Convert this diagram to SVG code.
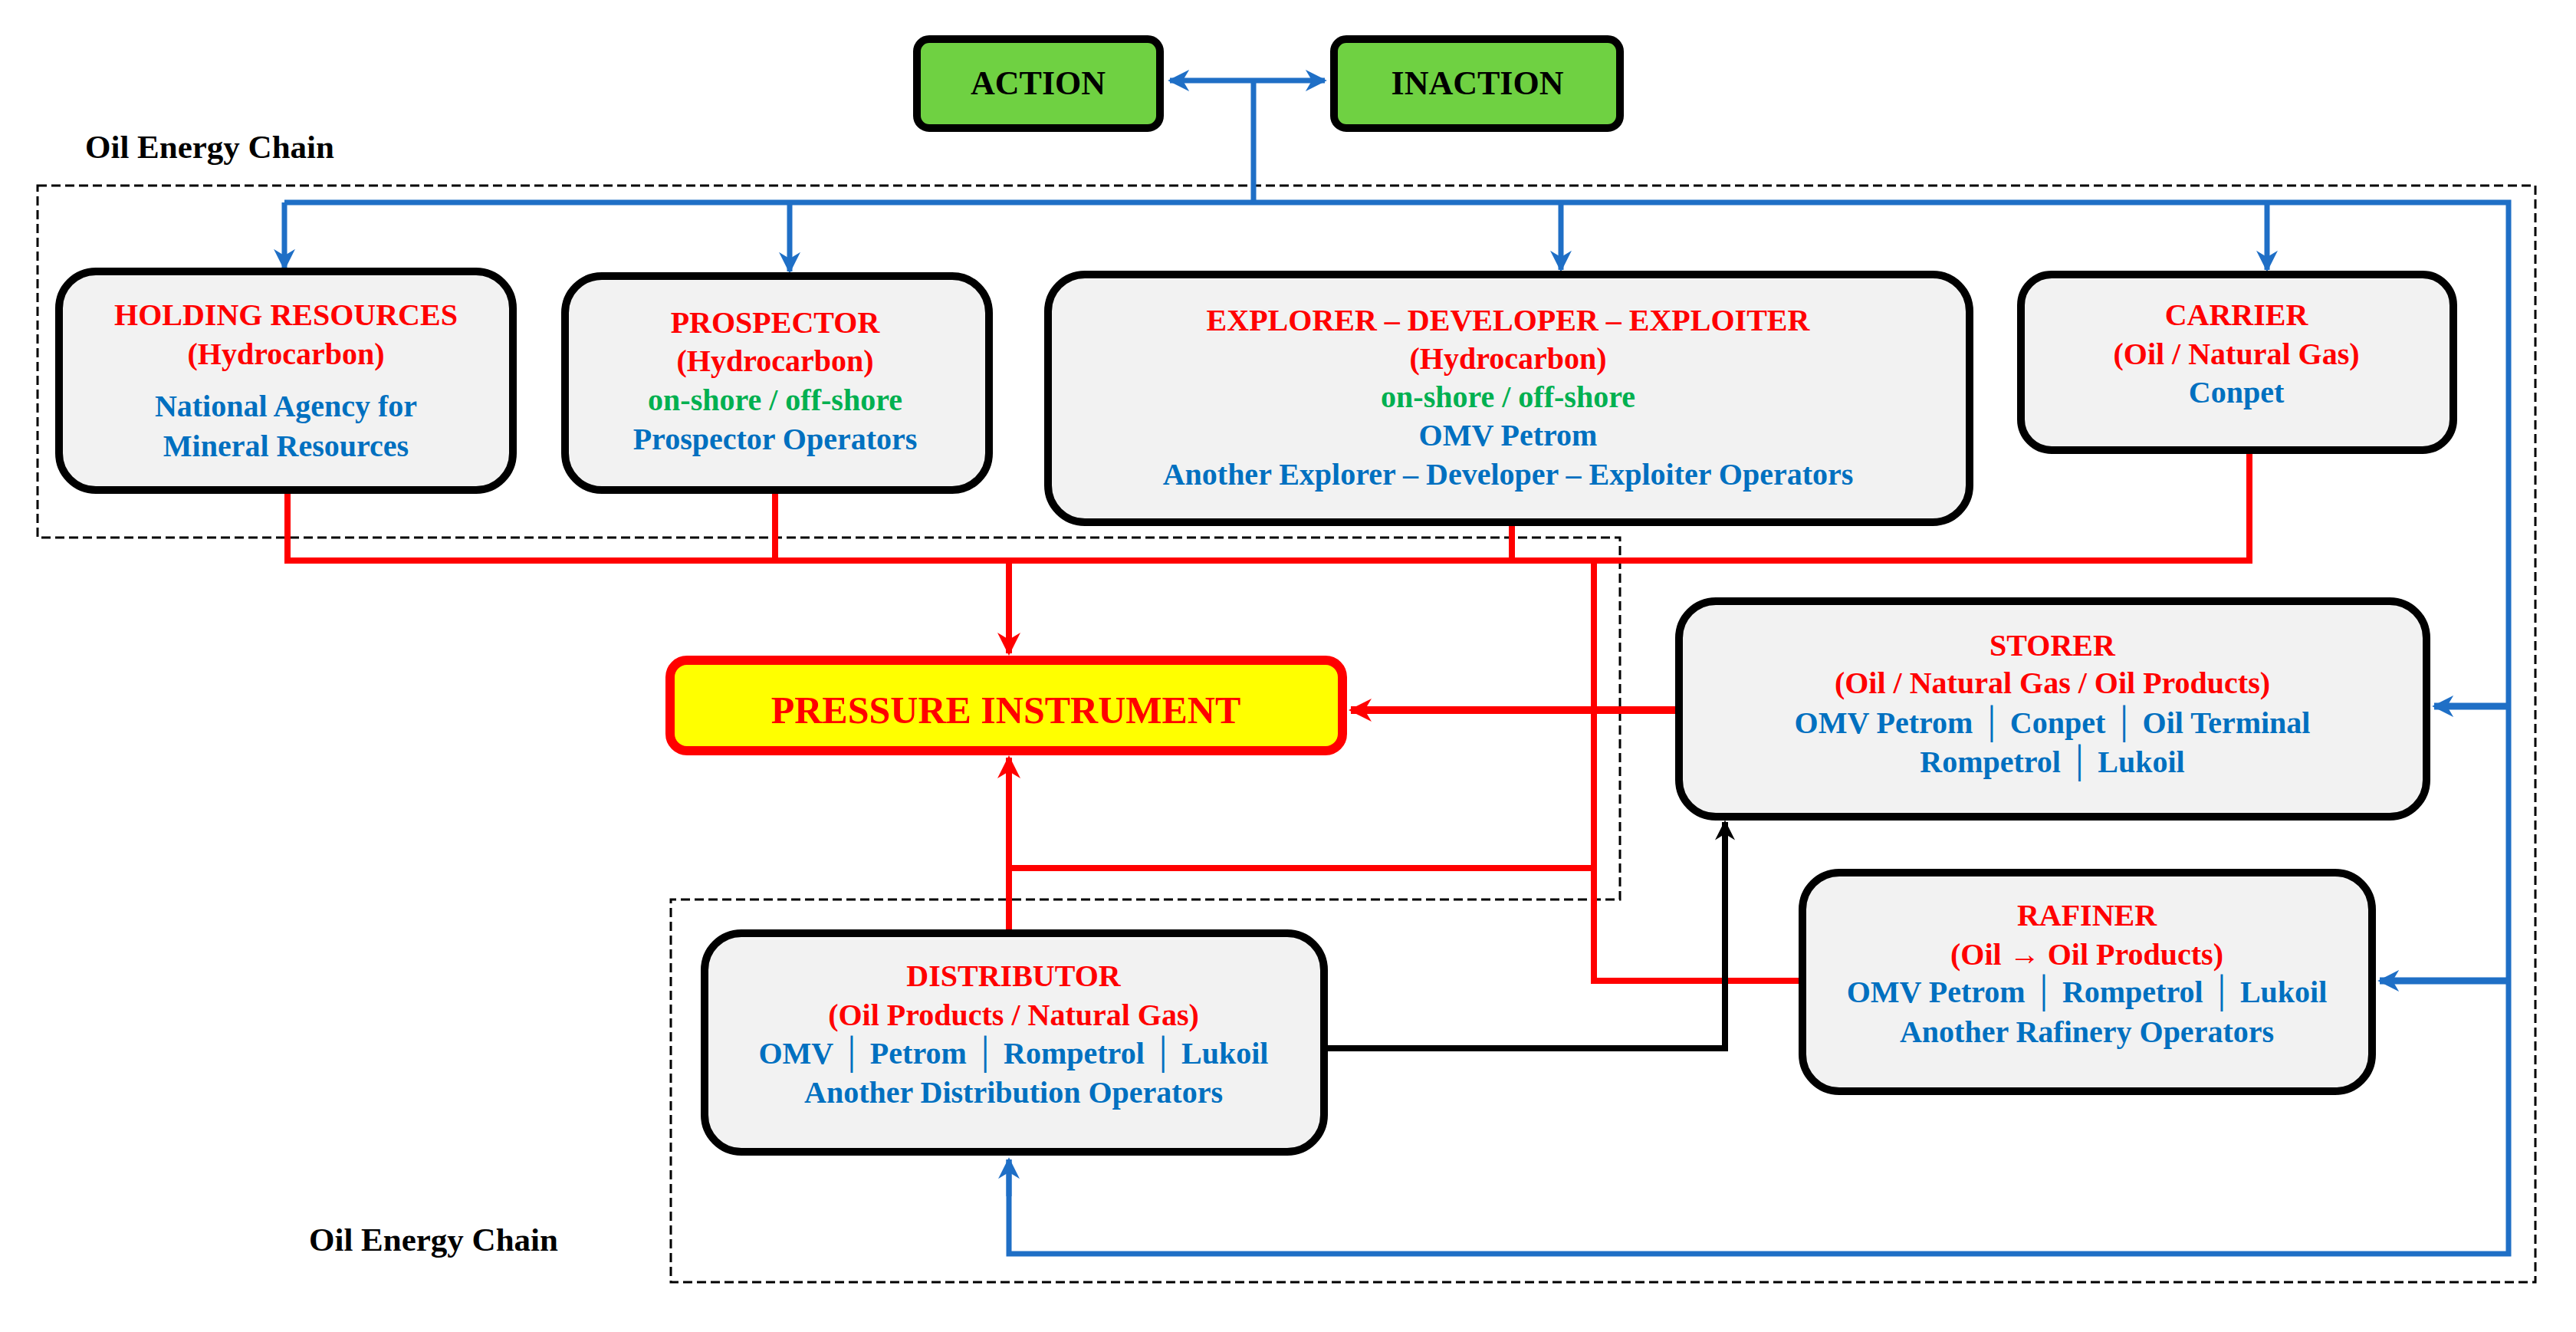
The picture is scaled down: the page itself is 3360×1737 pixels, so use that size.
<svg xmlns="http://www.w3.org/2000/svg" width="3360" height="1737" viewBox="0 0 3360 1737">
<style>
text{font-family:"Liberation Serif","Times New Roman",serif;font-weight:bold;text-anchor:middle}
.t{font-size:40px}
.lbl{font-size:43px;text-anchor:start}
.r{fill:#ff0000}.b{fill:#0070c0}.g{fill:#00b050}.k{fill:#000}
.box{fill:#f2f2f2;stroke:#000;stroke-width:10}
.gb{fill:#6fd142;stroke:#000;stroke-width:10}
.red{stroke:#ff0000;stroke-width:8;fill:none}
.blue{stroke:#1f6fc6;stroke-width:7;fill:none}
.blk{stroke:#000;stroke-width:8;fill:none}
.dash{stroke:#000;stroke-width:3;stroke-dasharray:12 6;fill:none}
</style>
<defs>
<marker id="abw" viewBox="0 0 10 10" refX="9" refY="5" markerWidth="28" markerHeight="36" orient="auto" markerUnits="userSpaceOnUse"><path d="M0,0L10,5L0,10L3,5z" fill="#1f6fc6"/></marker>
<marker id="ar" viewBox="0 0 10 10" refX="9" refY="5" markerWidth="36" markerHeight="30" orient="auto" markerUnits="userSpaceOnUse"><path d="M0,0L10,5L0,10L3,5z" fill="#ff0000"/></marker>
<marker id="ak" viewBox="0 0 10 10" refX="9" refY="5" markerWidth="34" markerHeight="26" orient="auto" markerUnits="userSpaceOnUse"><path d="M0,0L10,5L0,10L3,5z" fill="#000"/></marker>
</defs>
<rect width="3360" height="1737" fill="#fff"/>
<g id="chain-boundaries">
<path class="dash" d="M49,242H3307V1672H875V1173H2113V701H49Z"/>
<text class="lbl k" x="111" y="206">Oil Energy Chain</text>
<text class="lbl k" x="403" y="1631">Oil Energy Chain</text>
</g>
<g id="connectors">
<path class="blue" d="M1635,105V264" />
<path class="blue" d="M1635,105H1526" marker-end="url(#abw)"/>
<path class="blue" d="M1635,105H1728" marker-end="url(#abw)"/>
<path class="blue" d="M371,264H3272V1635H1316V1512" />
<path class="blue" d="M1316,1560V1512" marker-end="url(#abw)"/>
<path class="blue" d="M371,264V350" marker-end="url(#abw)"/>
<path class="blue" d="M1030,264V354" marker-end="url(#abw)"/>
<path class="blue" d="M2036,264V352" marker-end="url(#abw)"/>
<path class="blue" d="M2957,264V352" marker-end="url(#abw)"/>
<path class="blue" d="M3272,921H3175" marker-end="url(#abw)" style="stroke-width:9"/>
<path class="blue" d="M3272,1279H3104" marker-end="url(#abw)" style="stroke-width:9"/>
<path class="red" d="M375,644V731H2934V592"/>
<path class="red" d="M1011,644V731M1972,686V731"/>
<path class="red" d="M1316,731V852" marker-end="url(#ar)"/>
<path class="red" d="M2079,731V1279H2346"/>
<path class="red" d="M1316,1132H2079"/>
<path class="red" d="M1316,1212V988" marker-end="url(#ar)"/>
<path class="red" d="M2185,926H1762" marker-end="url(#ar)" style="stroke-width:10"/>
<path class="blk" d="M1732,1367H2250V1072" marker-end="url(#ak)"/>
</g>
<g id="action"><rect class="gb" x="1196" y="51" width="317" height="116" rx="16"/><text class="k" style="font-size:44px" x="1354" y="123">ACTION</text></g>
<g id="inaction"><rect class="gb" x="1740" y="51" width="373" height="116" rx="16"/><text class="k" style="font-size:44px" x="1927" y="123">INACTION</text></g>
<g id="holding"><rect class="box" x="77" y="354" width="592" height="285" rx="48"/>
<text class="t r" x="373" y="424">HOLDING RESOURCES</text><text class="t r" x="373" y="475">(Hydrocarbon)</text>
<text class="t b" x="373" y="543">National Agency for</text><text class="t b" x="373" y="595">Mineral Resources</text></g>
<g id="prospector"><rect class="box" x="737" y="360" width="553" height="279" rx="48"/>
<text class="t r" x="1011" y="434">PROSPECTOR</text><text class="t r" x="1011" y="484">(Hydrocarbon)</text>
<text class="t g" x="1011" y="535">on-shore / off-shore</text><text class="t b" x="1011" y="586">Prospector Operators</text></g>
<g id="explorer"><rect class="box" x="1367" y="358" width="1202" height="323" rx="48"/>
<text class="t r" x="1967" y="431">EXPLORER – DEVELOPER – EXPLOITER</text><text class="t r" x="1967" y="481">(Hydrocarbon)</text>
<text class="t g" x="1967" y="531">on-shore / off-shore</text><text class="t b" x="1967" y="581">OMV Petrom</text>
<text class="t b" x="1967" y="632">Another Explorer – Developer – Exploiter Operators</text></g>
<g id="carrier"><rect class="box" x="2636" y="358" width="564" height="229" rx="40"/>
<text class="t r" x="2917" y="424">CARRIER</text><text class="t r" x="2917" y="475">(Oil / Natural Gas)</text>
<text class="t b" x="2917" y="525">Conpet</text></g>
<g id="pressure"><rect x="874" y="861" width="877" height="118" rx="22" fill="#ffff00" stroke="#ff0000" stroke-width="12"/>
<text class="r" x="1312" y="943" style="font-size:50px">PRESSURE INSTRUMENT</text></g>
<g id="storer"><rect class="box" x="2190" y="784" width="975" height="281" rx="48"/>
<text class="t r" x="2677" y="855">STORER</text><text class="t r" x="2677" y="904">(Oil / Natural Gas / Oil Products)</text>
<text class="t b" x="2677" y="956">OMV Petrom │ Conpet │ Oil Terminal</text><text class="t b" x="2677" y="1007">Rompetrol │ Lukoil</text></g>
<g id="rafiner"><rect class="box" x="2351" y="1138" width="743" height="285" rx="48"/>
<text class="t r" x="2722" y="1207">RAFINER</text><text class="t r" x="2722" y="1258">(Oil → Oil Products)</text>
<text class="t b" x="2722" y="1307">OMV Petrom │ Rompetrol │ Lukoil</text><text class="t b" x="2722" y="1359">Another Rafinery Operators</text></g>
<g id="distributor"><rect class="box" x="919" y="1217" width="808" height="285" rx="48"/>
<text class="t r" x="1322" y="1286">DISTRIBUTOR</text><text class="t r" x="1322" y="1337">(Oil Products / Natural Gas)</text>
<text class="t b" x="1322" y="1387">OMV │ Petrom │ Rompetrol │ Lukoil</text><text class="t b" x="1322" y="1438">Another Distribution Operators</text></g>
</svg>
